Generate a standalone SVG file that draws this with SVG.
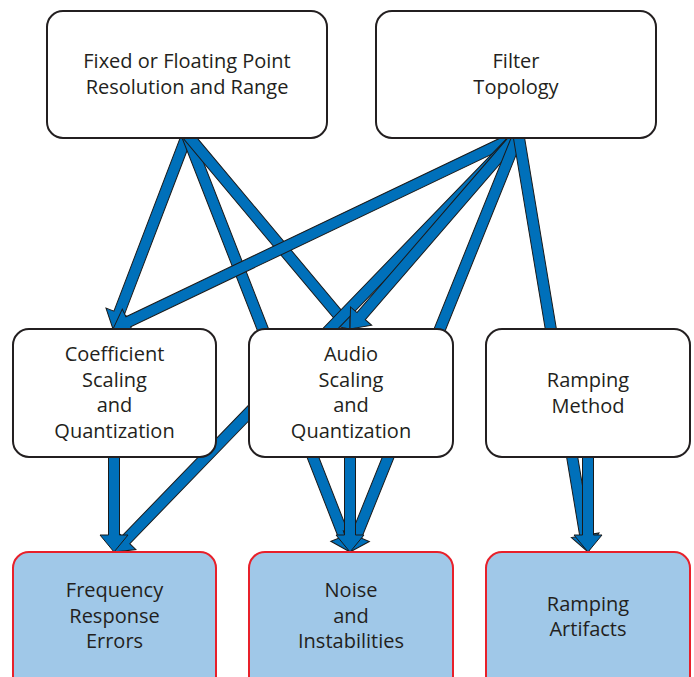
<svg xmlns="http://www.w3.org/2000/svg" width="694" height="677" viewBox="0 0 694 677">
<style>
.arrow{fill:#0070ba;stroke:#1a1a1a;stroke-width:1;stroke-linejoin:miter}
.box{fill:#ffffff;stroke:#231f20;stroke-width:2}
.res{fill:#a0c8e8;stroke:#e8202a;stroke-width:2}
text{font-family:"Open Sans","Noto Sans","Liberation Sans",sans-serif;font-size:20px;fill:#231f20;text-anchor:middle}
</style>
<rect width="694" height="677" fill="#ffffff"/>
<g id="connectors">
<polygon class="arrow" transform="translate(186,138) rotate(110.92)" points="-8,-5.5 187.5,-5.5 187.5,-14 204.5,0 187.5,14 187.5,5.5 -8,5.5"/>
<polygon class="arrow" transform="translate(188,138) rotate(68.63)" points="-8,-5.5 427.6,-5.5 427.6,-14 444.6,0 427.6,14 427.6,5.5 -8,5.5"/>
<polygon class="arrow" transform="translate(190,138) rotate(50.04)" points="-8,-5.5 232.2,-5.5 232.2,-14 249.2,0 232.2,14 232.2,5.5 -8,5.5"/>
<polygon class="arrow" transform="translate(513,138) rotate(154.47)" points="-8,-5.5 426.3,-5.5 426.3,-14 443.3,0 426.3,14 426.3,5.5 -8,5.5"/>
<polygon class="arrow" transform="translate(515,138) rotate(134.08)" points="-8,-5.5 559.4,-5.5 559.4,-14 576.4,0 559.4,14 559.4,5.5 -8,5.5"/>
<polygon class="arrow" transform="translate(515,138) rotate(130.82)" points="-8,-5.5 235.4,-5.5 235.4,-14 252.4,0 235.4,14 235.4,5.5 -8,5.5"/>
<polygon class="arrow" transform="translate(517,138) rotate(111.97)" points="-8,-5.5 429.4,-5.5 429.4,-14 446.4,0 429.4,14 429.4,5.5 -8,5.5"/>
<polygon class="arrow" transform="translate(519,138) rotate(80.54)" points="-8,-5.5 402.7,-5.5 402.7,-14 419.7,0 402.7,14 402.7,5.5 -8,5.5"/>
<polygon class="arrow" transform="translate(114,457) rotate(90)" points="-8,-5.5 78,-5.5 78,-14 95,0 78,14 78,5.5 -8,5.5"/>
<polygon class="arrow" transform="translate(350,457) rotate(90)" points="-8,-5.5 78,-5.5 78,-14 95,0 78,14 78,5.5 -8,5.5"/>
<polygon class="arrow" transform="translate(588,457) rotate(90)" points="-8,-5.5 78,-5.5 78,-14 95,0 78,14 78,5.5 -8,5.5"/>
</g>
<g id="fixed">
<rect class="box" x="47" y="11" width="280" height="127" rx="16"/>
<text x="187" y="68">Fixed or Floating Point</text>
<text x="187" y="94">Resolution and Range</text>
</g>
<g id="filter">
<rect class="box" x="376" y="11" width="280" height="127" rx="16"/>
<text x="516" y="68">Filter</text>
<text x="516" y="94">Topology</text>
</g>
<g id="coefficient">
<rect class="box" x="13" y="329" width="203" height="128" rx="16"/>
<text x="114.5" y="361">Coefficient</text>
<text x="114.5" y="386.5">Scaling</text>
<text x="114.5" y="412">and</text>
<text x="114.5" y="437.5">Quantization</text>
</g>
<g id="audio">
<rect class="box" x="249" y="329" width="204" height="128" rx="16"/>
<text x="351" y="361">Audio</text>
<text x="351" y="386.5">Scaling</text>
<text x="351" y="412">and</text>
<text x="351" y="437.5">Quantization</text>
</g>
<g id="ramping-method">
<rect class="box" x="486" y="329" width="204" height="128" rx="16"/>
<text x="588" y="387">Ramping</text>
<text x="588" y="412.5">Method</text>
</g>
<g id="frequency">
<rect class="res" x="13" y="552" width="203" height="140" rx="16"/>
<text x="114.5" y="597">Frequency</text>
<text x="114.5" y="622.5">Response</text>
<text x="114.5" y="648">Errors</text>
</g>
<g id="noise">
<rect class="res" x="249" y="552" width="204" height="140" rx="16"/>
<text x="351" y="597">Noise</text>
<text x="351" y="622.5">and</text>
<text x="351" y="648">Instabilities</text>
</g>
<g id="ramping-artifacts">
<rect class="res" x="486" y="552" width="204" height="140" rx="16"/>
<text x="588" y="611">Ramping</text>
<text x="588" y="636">Artifacts</text>
</g>
</svg>
